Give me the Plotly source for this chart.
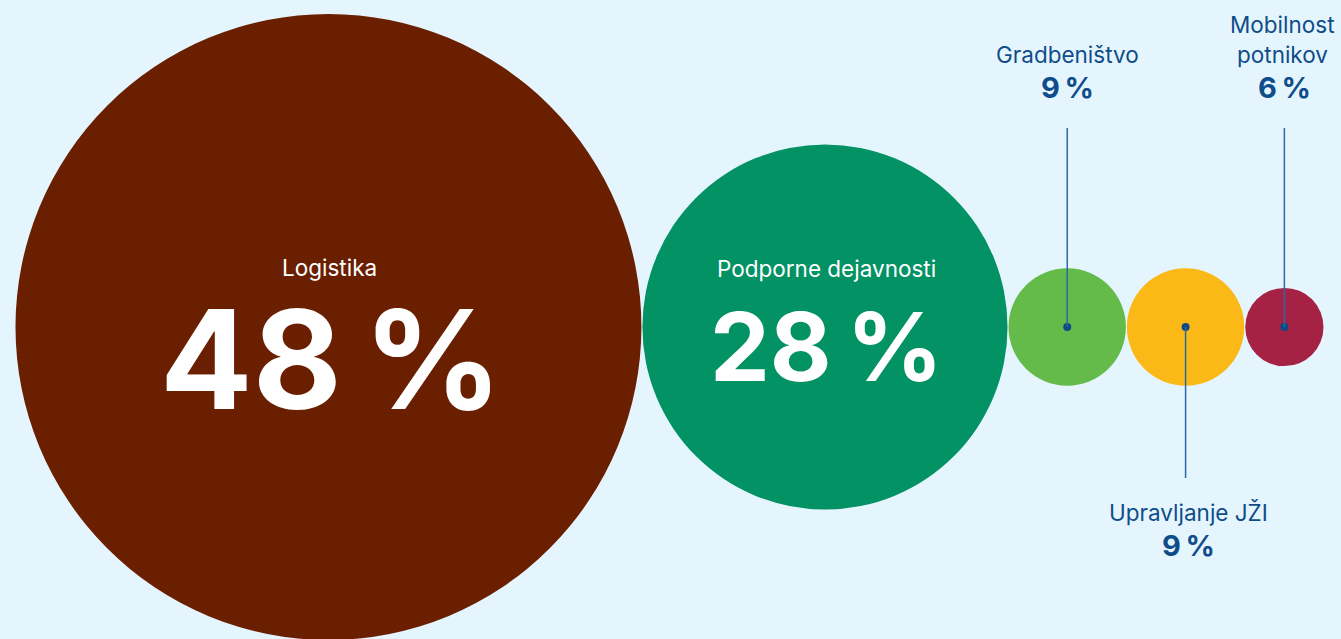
import plotly.graph_objects as go

# ---- data ----
categories = ["Logistika", "Podporne dejavnosti", "Gradbeništvo", "Upravljanje JŽI", "Mobilnost potnikov"]
values = [48, 28, 9, 9, 6]
value_labels = ["48\u2009%", "28\u2009%", "9\u2009%", "9\u2009%", "6\u2009%"]
colors = ["#691f00", "#029264", "#65bb4a", "#fbb918", "#a52245"]

# ---- layout constants ----
W, H = 1341, 639
BG = "#e5f5fd"
TXT = "#0f4d8a"
LINE = "#2a6aa3"
PX_PER_UNIT = 6.52
LEFT = 15.5
GAP = 1.0
CY = 327
FONT = "Inter, 'Liberation Sans', Arial, sans-serif"

radii = [v * PX_PER_UNIT for v in values]
centers = []
edge = LEFT
for r in radii:
    centers.append(edge + r)
    edge = edge + 2 * r + GAP

fig = go.Figure()
shapes = []
for c, r, col in zip(centers, radii, colors):
    shapes.append(dict(type="circle", xref="x", yref="y", x0=c - r, x1=c + r,
                       y0=CY - r, y1=CY + r, fillcolor=col, line=dict(width=0), layer="below"))

annotations = []
def ann(text, x, y, size, color, weight=400):
    annotations.append(dict(text=text, x=x, y=y, xref="x", yref="y", showarrow=False,
                            xanchor="center", yanchor="middle",
                            font=dict(family=FONT, size=size, color=color, weight=weight)))

# big circles: text inside
ann(categories[0], centers[0] + 1, 267, 22.5, "white")
ann(value_labels[0], centers[0] + 3, 359, 137, "white", 700)
ann(categories[1], centers[1] + 2, 268, 22.5, "white")
ann(value_labels[1], centers[1] + 2, 346, 95, "white", 700)

# small circles: outside labels with leader lines
ann(categories[2], centers[2], 54, 22.5, TXT)
ann(value_labels[2], centers[2], 87, 29, TXT, 700)
mob = categories[4].split(" ")
ann(mob[0], centers[4] - 2, 24, 22.5, TXT)
ann(mob[1], centers[4] - 2, 54, 22.5, TXT)
ann(value_labels[4], centers[4], 87, 29, TXT, 700)
ann(categories[3], centers[3] + 3, 512, 22.5, TXT)
ann(value_labels[3], centers[3] + 3, 545, 29, TXT, 700)

# leader lines
for i, (y0, y1) in [(2, (128, CY)), (4, (128, CY)), (3, (CY, 478))]:
    shapes.append(dict(type="line", xref="x", yref="y", x0=centers[i], x1=centers[i],
                       y0=y0, y1=y1, line=dict(color=LINE, width=1.5), layer="above"))

fig.add_trace(go.Scatter(x=[centers[2], centers[3], centers[4]], y=[CY, CY, CY], mode="markers",
                         marker=dict(size=8, color="#0d4a85"), hoverinfo="skip", showlegend=False))

fig.update_layout(
    width=W, height=H, margin=dict(l=0, r=0, t=0, b=0),
    paper_bgcolor=BG, plot_bgcolor=BG, shapes=shapes, annotations=annotations,
    xaxis=dict(range=[0, W], visible=False, fixedrange=True),
    yaxis=dict(range=[H, 0], visible=False, fixedrange=True),
    showlegend=False,
)

fig.write_html("out.html", config={"displayModeBar": False},
               post_script="document.body.style.margin='0';document.body.style.overflow='hidden';")
